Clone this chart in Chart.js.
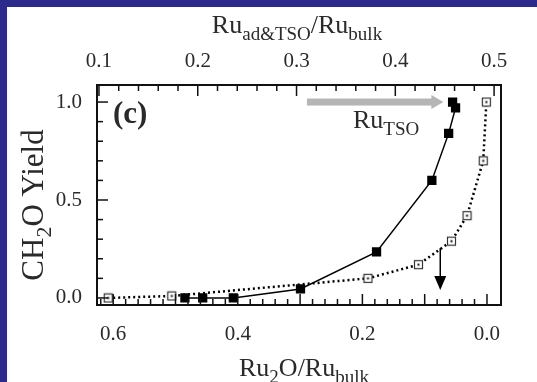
<!DOCTYPE html>
<html>
<head>
<meta charset="utf-8">
<script src="https://cdn.jsdelivr.net/npm/chart.js@4.4.0/dist/chart.umd.min.js"></script>
<style>
  html, body { margin: 0; padding: 0; background: #2c2b8c; }
  #wrap { position: absolute; left: 7px; top: 7px; width: 530px; height: 375px; background: #fff; }
</style>
</head>
<body>
<div id="wrap"><canvas id="chart" width="530" height="375"></canvas></div>
<script>
// Ru_TSO series (filled squares), read against the top axis
const tsoX = [0.187, 0.205, 0.236, 0.304, 0.381, 0.437, 0.454, 0.461, 0.458];
const tsoY = [0, 0, 0, 0.046, 0.235, 0.60, 0.84, 0.97, 1.0];

// Ru2O series (open squares), read against the bottom axis
const oxX = [0.608, 0.506, 0.191, 0.110, 0.057, 0.032, 0.006, 0.001];
const oxY = [0, 0.01, 0.10, 0.17, 0.29, 0.42, 0.70, 1.0];

const bottomTicks = [0.6, 0.4, 0.2, 0.0];
const topTicks = [0.1, 0.2, 0.3, 0.4, 0.5];
const yTicks = [0.0, 0.5, 1.0];

const serif = '"Liberation Serif", "Times New Roman", serif';
const ink = '#2a2a2a';

// open square marker with a dot in the middle
const openSquare = document.createElement('canvas');
openSquare.width = 11;
openSquare.height = 11;
(function () {
    const c = openSquare.getContext('2d');
    c.fillStyle = '#fff';
    c.fillRect(1, 1, 9, 9);
    c.strokeStyle = '#333';
    c.lineWidth = 1.2;
    c.strokeRect(1.5, 1.5, 8, 8);
    c.fillStyle = '#111';
    c.fillRect(4.5, 4.5, 2, 2);
})();

function drawRich(ctx, parts, x, y, size, align) {
    const sub = Math.round(size * 0.72);
    let w = 0;
    parts.forEach(p => {
        ctx.font = (p[1] ? sub : size) + 'px ' + serif;
        w += ctx.measureText(p[0]).width;
    });
    let cx = align === 'center' ? x - w / 2 : x;
    ctx.textAlign = 'left';
    ctx.textBaseline = 'alphabetic';
    parts.forEach(p => {
        ctx.font = (p[1] ? sub : size) + 'px ' + serif;
        ctx.fillText(p[0], cx, p[1] ? y + size * 0.25 : y);
        cx += ctx.measureText(p[0]).width;
    });
}

function tickMarks(ctx, scale, from, to, step, majorEvery, edge, dir, horizontal) {
    const n = Math.round((to - from) / step);
    for (let i = 0; i <= n; i++) {
        const v = from + i * step;
        const len = i % majorEvery === 0 ? 11 : 6;
        const p = scale.getPixelForValue(v);
        ctx.beginPath();
        if (horizontal) {
            ctx.moveTo(p, edge);
            ctx.lineTo(p, edge + dir * len);
        } else {
            ctx.moveTo(edge, p);
            ctx.lineTo(edge + dir * len, p);
        }
        ctx.stroke();
    }
}

const decorations = {
    id: 'decorations',
    afterDraw(chart) {
        const ctx = chart.ctx;
        const a = chart.chartArea;
        const xs = chart.scales.x, xt = chart.scales.x2, ys = chart.scales.y;
        ctx.save();

        // frame and inward ticks
        ctx.strokeStyle = '#111';
        ctx.lineWidth = 2;
        ctx.strokeRect(a.left, a.top, a.right - a.left, a.bottom - a.top);
        ctx.lineWidth = 1.5;
        tickMarks(ctx, xs, 0, 0.62, 0.02, 5, a.bottom, -1, true);
        tickMarks(ctx, xt, 0.1, 0.5, 0.02, 5, a.top, 1, true);
        tickMarks(ctx, ys, 0, 1.0, 0.1, 5, a.left, 1, false);

        // gray arrow towards Ru_TSO
        const gy = ys.getPixelForValue(1.0);
        const gx0 = xs.getPixelForValue(0.289), gx1 = xs.getPixelForValue(0.070);
        ctx.fillStyle = '#b5b5b5';
        ctx.fillRect(gx0, gy - 3.5, gx1 - gx0 - 11, 7);
        ctx.beginPath();
        ctx.moveTo(gx1 - 12, gy - 7);
        ctx.lineTo(gx1, gy);
        ctx.lineTo(gx1 - 12, gy + 7);
        ctx.closePath();
        ctx.fill();

        // down arrow
        const dx = xs.getPixelForValue(0.075);
        const dy0 = ys.getPixelForValue(0.255), dy1 = ys.getPixelForValue(0.04);
        ctx.strokeStyle = '#000';
        ctx.lineWidth = 1.5;
        ctx.beginPath();
        ctx.moveTo(dx, dy0);
        ctx.lineTo(dx, dy1 - 12);
        ctx.stroke();
        ctx.fillStyle = '#000';
        ctx.beginPath();
        ctx.moveTo(dx - 6, dy1 - 14);
        ctx.lineTo(dx + 6, dy1 - 14);
        ctx.lineTo(dx, dy1);
        ctx.closePath();
        ctx.fill();

        // labels
        ctx.fillStyle = ink;
        ctx.font = 'bold 31px ' + serif;
        ctx.textAlign = 'left';
        ctx.textBaseline = 'alphabetic';
        ctx.fillText('(c)', a.left + 16, a.top + 38);
        drawRich(ctx, [['Ru', false], ['TSO', true]], 346, 121, 26, 'left');

        // axis titles
        drawRich(ctx, [['Ru', false], ['ad&TSO', true], ['/Ru', false], ['bulk', true]], 290, 26, 26, 'center');
        drawRich(ctx, [['Ru', false], ['2', true], ['O/Ru', false], ['bulk', true]], 297, 369, 26, 'center');
        ctx.save();
        ctx.translate(36, 198);
        ctx.rotate(-Math.PI / 2);
        drawRich(ctx, [['CH', false], ['2', true], ['O Yield', false]], 0, 0, 31, 'center');
        ctx.restore();

        ctx.restore();
    }
};

const tickFont = { family: serif, size: 21 };
const fmt = v => Number(v).toFixed(1);

new Chart(document.getElementById('chart'), {
    type: 'scatter',
    data: {
        datasets: [
            {
                label: 'Ru2O',
                data: oxX.map((x, i) => ({ x: x, y: oxY[i] })),
                xAxisID: 'x',
                showLine: true,
                borderColor: '#000',
                borderWidth: 2.5,
                borderDash: [2, 3],
                pointStyle: openSquare,
                pointRadius: 5
            },
            {
                label: 'RuTSO',
                data: tsoX.map((x, i) => ({ x: x, y: tsoY[i] })),
                xAxisID: 'x2',
                showLine: true,
                borderColor: '#000',
                borderWidth: 1.5,
                pointStyle: 'rect',
                pointRadius: 5.5,
                pointBackgroundColor: '#000',
                pointBorderColor: '#000'
            }
        ]
    },
    options: {
        responsive: false,
        animation: false,
        devicePixelRatio: 1,
        layout: { padding: { left: 0, right: 36, top: 0, bottom: 0 } },
        plugins: { legend: { display: false }, tooltip: { enabled: false } },
        scales: {
            x: {
                type: 'linear',
                position: 'bottom',
                reverse: true,
                min: -0.0225,
                max: 0.626,
                grid: { display: false },
                border: { display: false },
                ticks: { font: tickFont, color: ink, padding: 9, maxRotation: 0, callback: fmt },
                afterBuildTicks: s => { s.ticks = bottomTicks.map(v => ({ value: v })); },
                afterFit: s => { s.height = 77; s.paddingLeft = 0; s.paddingRight = 0; }
            },
            x2: {
                type: 'linear',
                position: 'top',
                min: 0.098,
                max: 0.507,
                grid: { display: false },
                border: { display: false },
                ticks: { font: tickFont, color: ink, padding: 3, maxRotation: 0, callback: fmt },
                afterBuildTicks: s => { s.ticks = topTicks.map(v => ({ value: v })); },
                afterFit: s => { s.height = 78; s.paddingLeft = 0; s.paddingRight = 0; }
            },
            y: {
                type: 'linear',
                min: -0.036,
                max: 1.087,
                grid: { display: false },
                border: { display: false },
                ticks: { font: tickFont, color: ink, padding: 7, callback: fmt },
                afterBuildTicks: s => { s.ticks = yTicks.map(v => ({ value: v })); },
                afterFit: s => { s.width = 90; s.paddingTop = 0; s.paddingBottom = 0; }
            }
        }
    },
    plugins: [decorations]
});
</script>
</body>
</html>
